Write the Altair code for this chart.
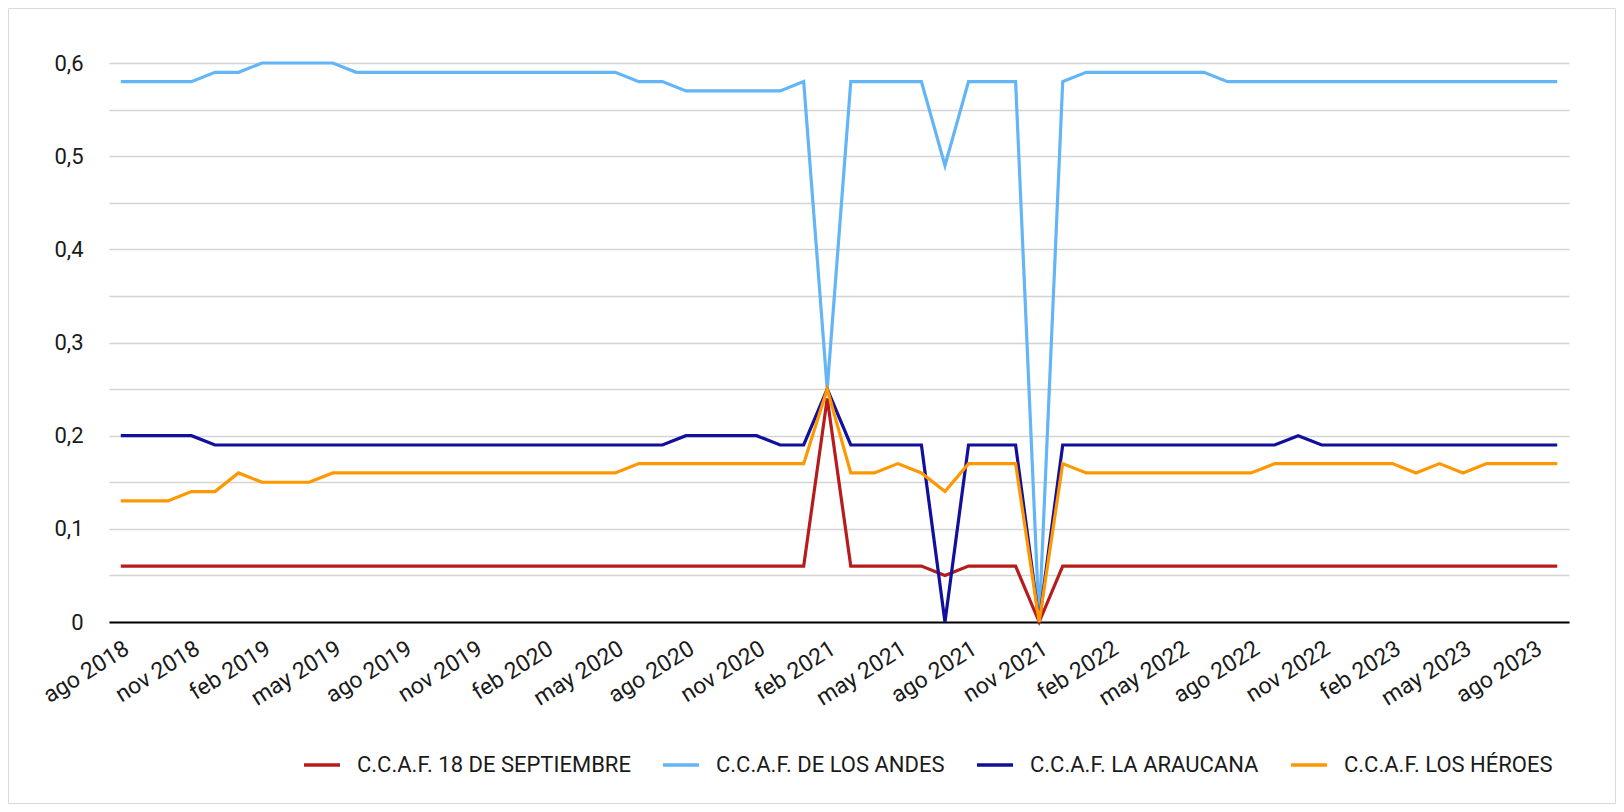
import altair as alt
import pandas as pd

# ---- categories -------------------------------------------------------
month_names = ["ene", "feb", "mar", "abr", "may", "jun",
               "jul", "ago", "sep", "oct", "nov", "dic"]
months = []
for k in range(62):  # ago 2018 .. sep 2023
    idx = 7 + k
    months.append(f"{month_names[idx % 12]} {2018 + idx // 12}")
tick_labels = months[::3]

series_names = ["C.C.A.F. 18 DE SEPTIEMBRE", "C.C.A.F. DE LOS ANDES",
                "C.C.A.F. LA ARAUCANA", "C.C.A.F. LOS HÉROES"]
series_colors = ["#B71C1C", "#64B5F6", "#110F9C", "#FF9800"]

# ---- series values ------------------------------------------------------
sept18 = [0.06, 0.06, 0.06, 0.06, 0.06, 0.06, 0.06, 0.06, 0.06, 0.06,
          0.06, 0.06, 0.06, 0.06, 0.06, 0.06, 0.06, 0.06, 0.06, 0.06,
          0.06, 0.06, 0.06, 0.06, 0.06, 0.06, 0.06, 0.06, 0.06, 0.06,
          0.24, 0.06, 0.06, 0.06, 0.06, 0.05, 0.06, 0.06, 0.06, 0.00,
          0.06, 0.06, 0.06, 0.06, 0.06, 0.06, 0.06, 0.06, 0.06, 0.06,
          0.06, 0.06, 0.06, 0.06, 0.06, 0.06, 0.06, 0.06, 0.06, 0.06,
          0.06, 0.06]
andes = [0.58, 0.58, 0.58, 0.58, 0.59, 0.59, 0.60, 0.60, 0.60, 0.60,
         0.59, 0.59, 0.59, 0.59, 0.59, 0.59, 0.59, 0.59, 0.59, 0.59,
         0.59, 0.59, 0.58, 0.58, 0.57, 0.57, 0.57, 0.57, 0.57, 0.58,
         0.25, 0.58, 0.58, 0.58, 0.58, 0.49, 0.58, 0.58, 0.58, 0.00,
         0.58, 0.59, 0.59, 0.59, 0.59, 0.59, 0.59, 0.58, 0.58, 0.58,
         0.58, 0.58, 0.58, 0.58, 0.58, 0.58, 0.58, 0.58, 0.58, 0.58,
         0.58, 0.58]
araucana = [0.20, 0.20, 0.20, 0.20, 0.19, 0.19, 0.19, 0.19, 0.19, 0.19,
            0.19, 0.19, 0.19, 0.19, 0.19, 0.19, 0.19, 0.19, 0.19, 0.19,
            0.19, 0.19, 0.19, 0.19, 0.20, 0.20, 0.20, 0.20, 0.19, 0.19,
            0.25, 0.19, 0.19, 0.19, 0.19, 0.00, 0.19, 0.19, 0.19, 0.00,
            0.19, 0.19, 0.19, 0.19, 0.19, 0.19, 0.19, 0.19, 0.19, 0.19,
            0.20, 0.19, 0.19, 0.19, 0.19, 0.19, 0.19, 0.19, 0.19, 0.19,
            0.19, 0.19]
heroes = [0.13, 0.13, 0.13, 0.14, 0.14, 0.16, 0.15, 0.15, 0.15, 0.16,
          0.16, 0.16, 0.16, 0.16, 0.16, 0.16, 0.16, 0.16, 0.16, 0.16,
          0.16, 0.16, 0.17, 0.17, 0.17, 0.17, 0.17, 0.17, 0.17, 0.17,
          0.25, 0.16, 0.16, 0.17, 0.16, 0.14, 0.17, 0.17, 0.17, 0.00,
          0.17, 0.16, 0.16, 0.16, 0.16, 0.16, 0.16, 0.16, 0.16, 0.17,
          0.17, 0.17, 0.17, 0.17, 0.17, 0.16, 0.17, 0.16, 0.17, 0.17,
          0.17, 0.17]

grid_values = [0, 0.05, 0.1, 0.15, 0.2, 0.25, 0.3, 0.35, 0.4, 0.45, 0.5, 0.55, 0.6]

rows = []
for name, vals in zip(series_names, [sept18, andes, araucana, heroes]):
    for m, v in zip(months, vals):
        rows.append({"mes": m, "valor": v, "caja": name})
df = pd.DataFrame(rows)

W, H = 1460, 559
FONT = "Roboto"
TXT = "#1a1a1a"

lines = alt.Chart(df).mark_line(strokeWidth=3.2, strokeJoin="miter", strokeCap="butt").encode(
    x=alt.X("mes:N", sort=months,
            scale=alt.Scale(type="point", padding=0.5),
            axis=alt.Axis(values=tick_labels, title=None, labelAngle=-32,
                          labelAlign="right", labelBaseline="top",
                          labelPadding=15, ticks=False, grid=False,
                          domainColor="#000000", domainWidth=2,
                          labelFont=FONT, labelFontSize=23, labelColor=TXT,
                          labelOverlap=False, labelBound=False)),
    y=alt.Y("valor:Q", scale=alt.Scale(domain=[0, 0.6], nice=False, zero=True),
            axis=alt.Axis(values=grid_values, title=None, domain=False, ticks=False,
                          grid=True, gridColor="#d4d4d4", gridWidth=1.3,
                          labelExpr="round(datum.value*100) % 10 == 0 ? replace(format(datum.value, '.1~f'), '.', ',') : ''",
                          labelFont=FONT, labelFontSize=22, labelColor=TXT,
                          labelPadding=26)),
    color=alt.Color("caja:N",
                    scale=alt.Scale(domain=series_names, range=series_colors),
                    legend=alt.Legend(title=None, orient="none", direction="horizontal",
                                      legendX=193, legendY=682,
                                      symbolType="stroke", symbolSize=1296,
                                      symbolStrokeWidth=3.5,
                                      labelFont=FONT, labelFontSize=22,
                                      labelColor=TXT, labelOffset=15,
                                      columnPadding=25, labelLimit=500)),
    order=alt.Order("caja:N"),
)

frame = alt.Chart(alt.Data(values=[{"a": 1}])).mark_rect(
    filled=False, stroke="#d9d9d9", strokeWidth=1
).encode(
    x=alt.value(-100.5), x2=alt.value(1506.5),
    y=alt.value(-54.5), y2=alt.value(740.5),
)

chart = alt.layer(frame, lines).properties(
    width=W, height=H,
    autosize=alt.AutoSizeParams(type="none"),
    padding={"left": 101, "top": 55, "right": 47, "bottom": 182},
    background="white",
).configure_view(stroke="transparent")

chart.save("out.html", embed_options={"renderer": "svg", "actions": False})
